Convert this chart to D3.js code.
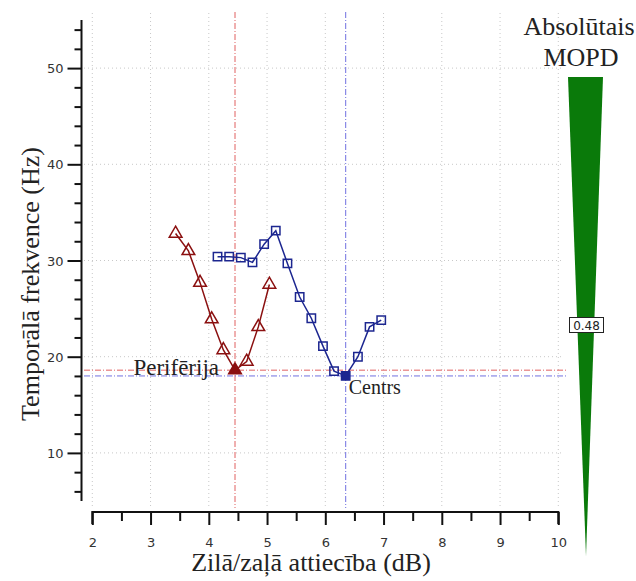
<!DOCTYPE html>
<html>
<head>
<meta charset="utf-8">
<script src="https://cdn.jsdelivr.net/npm/d3@7"></script>
<style>
  body { margin: 0; background: #fff; }
  svg { display: block; }
</style>
</head>
<body>
<svg id="chart" width="636" height="581"></svg>
<script>
// Data
var periferijaX = [3.43, 3.65, 3.85, 4.05, 4.25, 4.45, 4.65, 4.85, 5.04];
var periferijaY = [32.8, 31.0, 27.7, 23.9, 20.7, 18.6, 19.5, 23.1, 27.5];
var centrsX = [4.15, 4.35, 4.55, 4.75, 4.95, 5.15, 5.35, 5.56, 5.76, 5.96, 6.15, 6.35, 6.56, 6.76, 6.96];
var centrsY = [30.4, 30.4, 30.3, 29.8, 31.7, 33.1, 29.7, 26.2, 24.0, 21.1, 18.5, 18.0, 20.0, 23.1, 23.8];
var periferijaMin = [4.45, 18.6];
var centrsMin = [6.35, 18.0];
var xTicks = [2, 3, 4, 5, 6, 7, 8, 9, 10];
var yTicks = [10, 20, 30, 40, 50];
var mopdValue = 0.48;

var svg = d3.select('#chart');
var serif = '"Liberation Serif", "Times New Roman", serif';
var sans = '"DejaVu Sans", Verdana, sans-serif';

// Scales
var x = d3.scaleLinear().domain([2, 10]).range([92.3, 558.3]);
var y = d3.scaleLinear().domain([5, 55]).range([501, 20]);

var red = '#8b1010';
var blue = '#1c2690';

// Grid
var grid = svg.append('g').attr('class', 'grid');
grid.selectAll('.vgrid')
    .data(xTicks)
    .enter()
    .append('line')
    .attr('x1', function(d) { return x(d); })
    .attr('x2', function(d) { return x(d); })
    .attr('y1', 13)
    .attr('y2', 506)
    .attr('stroke', '#c8c8c8')
    .attr('stroke-width', 1)
    .attr('stroke-dasharray', '1,3');
grid.selectAll('.hgrid')
    .data(yTicks)
    .enter()
    .append('line')
    .attr('x1', 84)
    .attr('x2', 563)
    .attr('y1', function(d) { return y(d); })
    .attr('y2', function(d) { return y(d); })
    .attr('stroke', '#c8c8c8')
    .attr('stroke-width', 1)
    .attr('stroke-dasharray', '1,3');

// Reference lines (dash-dot)
var refs = svg.append('g');
refs.append('line')
    .attr('x1', x(periferijaMin[0])).attr('x2', x(periferijaMin[0]))
    .attr('y1', 12).attr('y2', 508)
    .attr('stroke', '#e06060').attr('stroke-width', 1)
    .attr('stroke-dasharray', '6,2,1,2');
refs.append('line')
    .attr('x1', x(centrsMin[0])).attr('x2', x(centrsMin[0]))
    .attr('y1', 12).attr('y2', 508)
    .attr('stroke', '#7070e0').attr('stroke-width', 1)
    .attr('stroke-dasharray', '6,2,1,2');
refs.append('line')
    .attr('x1', 84).attr('x2', 567)
    .attr('y1', y(periferijaMin[1])).attr('y2', y(periferijaMin[1]))
    .attr('stroke', '#e06060').attr('stroke-width', 1)
    .attr('stroke-dasharray', '6,2,1,2');
refs.append('line')
    .attr('x1', 84).attr('x2', 567)
    .attr('y1', y(centrsMin[1])).attr('y2', y(centrsMin[1]))
    .attr('stroke', '#7070e0').attr('stroke-width', 1)
    .attr('stroke-dasharray', '6,2,1,2');

// Y axis
var yAxis = svg.append('g')
    .attr('transform', 'translate(81.5,0)')
    .call(d3.axisLeft(y).tickValues(d3.range(6, 55, 2)).tickSize(7).tickFormat(''));
yAxis.select('.domain').attr('d', 'M0,' + y(55) + 'V' + y(5)).attr('stroke', '#111').attr('stroke-width', 2);
yAxis.selectAll('.tick line').attr('stroke', '#111').attr('stroke-width', 2)
    .attr('x2', function(d) { return d % 10 === 0 ? -14 : -7; });
yAxis.selectAll('.tick')
    .filter(function(d) { return d % 10 === 0; })
    .append('text')
    .attr('x', -18)
    .attr('dy', '0.35em')
    .attr('text-anchor', 'end')
    .attr('fill', '#333')
    .attr('font-family', sans)
    .attr('font-size', 13)
    .text(function(d) { return d; });

// X axis
var xAxis = svg.append('g')
    .attr('transform', 'translate(0,512)')
    .call(d3.axisBottom(x).tickValues(d3.range(2, 10.01, 0.5)).tickSize(12).tickFormat(''));
xAxis.select('.domain').attr('d', 'M' + x(2) + ',12V0H' + x(10) + 'V12').attr('stroke', '#111').attr('stroke-width', 2).attr('fill', 'none');
xAxis.selectAll('.tick line').attr('stroke', '#111').attr('stroke-width', 2)
    .attr('y2', function(d) { return d % 1 === 0 ? 13 : 9; });
xAxis.selectAll('.tick')
    .filter(function(d) { return d % 1 === 0; })
    .append('text')
    .attr('y', 30)
    .attr('dy', '0.35em')
    .attr('text-anchor', 'middle')
    .attr('fill', '#333')
    .attr('font-family', sans)
    .attr('font-size', 13)
    .text(function(d) { return d; });

// Axis titles
svg.append('text')
    .attr('x', 311)
    .attr('y', 571)
    .attr('text-anchor', 'middle')
    .attr('font-family', serif)
    .attr('font-size', 26)
    .attr('fill', '#222')
    .text('Zilā/zaļā attiecība (dB)');
svg.append('text')
    .attr('transform', 'translate(39,284) rotate(-90)')
    .attr('text-anchor', 'middle')
    .attr('font-family', serif)
    .attr('font-size', 26)
    .attr('fill', '#222')
    .text('Temporālā frekvence (Hz)');

// Series
var periferija = periferijaX.map(function(v, i) { return [v, periferijaY[i]]; });
var centrs = centrsX.map(function(v, i) { return [v, centrsY[i]]; });
var line = d3.line().x(function(d) { return x(d[0]); }).y(function(d) { return y(d[1]); });

svg.append('path').datum(periferija).attr('d', line)
    .attr('fill', 'none').attr('stroke', red).attr('stroke-width', 1.5);
svg.append('path').datum(centrs).attr('d', line)
    .attr('fill', 'none').attr('stroke', blue).attr('stroke-width', 1.5);

var tri = d3.symbol().type(d3.symbolTriangle).size(70);
var sq = d3.symbol().type(d3.symbolSquare).size(70);

svg.selectAll('.tri')
    .data(periferija)
    .enter()
    .append('path')
    .attr('transform', function(d) { return 'translate(' + x(d[0]) + ',' + y(d[1]) + ')'; })
    .attr('d', tri)
    .attr('fill', function(d) { return d[0] === periferijaMin[0] ? red : 'none'; })
    .attr('stroke', red)
    .attr('stroke-width', 1.5);

svg.selectAll('.sq')
    .data(centrs)
    .enter()
    .append('path')
    .attr('transform', function(d) { return 'translate(' + x(d[0]) + ',' + y(d[1]) + ')'; })
    .attr('d', sq)
    .attr('fill', function(d) { return d[0] === centrsMin[0] ? blue : 'none'; })
    .attr('stroke', blue)
    .attr('stroke-width', 1.5);

// Labels
svg.append('text')
    .attr('x', x(periferijaMin[0]) - 16)
    .attr('y', y(periferijaMin[1]) + 5)
    .attr('text-anchor', 'end')
    .attr('font-family', serif)
    .attr('font-size', 23)
    .attr('fill', '#222')
    .text('Perifērija');
svg.append('text')
    .attr('x', x(centrsMin[0]) + 3)
    .attr('y', y(centrsMin[1]) + 18)
    .attr('font-family', serif)
    .attr('font-size', 20)
    .attr('fill', '#222')
    .text('Centrs');

// MOPD wedge
var wedge = svg.append('g');
wedge.append('path')
    .attr('d', 'M568,77L603,77L586,556Z')
    .attr('fill', '#0a7a0a');
wedge.append('text')
    .attr('x', 579)
    .attr('y', 35)
    .attr('text-anchor', 'middle')
    .attr('font-family', serif)
    .attr('font-size', 26)
    .attr('fill', '#222')
    .text('Absolūtais');
wedge.append('text')
    .attr('x', 581)
    .attr('y', 66)
    .attr('text-anchor', 'middle')
    .attr('font-family', serif)
    .attr('font-size', 26)
    .attr('fill', '#222')
    .text('MOPD');
wedge.append('rect')
    .attr('x', 569.5).attr('y', 317.5)
    .attr('width', 34).attr('height', 15)
    .attr('fill', '#fff').attr('stroke', '#222').attr('stroke-width', 1);
wedge.append('text')
    .attr('x', 586.5)
    .attr('y', 325.5)
    .attr('dy', '0.35em')
    .attr('text-anchor', 'middle')
    .attr('font-family', sans)
    .attr('font-size', 12)
    .attr('fill', '#222')
    .text(mopdValue.toFixed(2));
</script>
</body>
</html>
